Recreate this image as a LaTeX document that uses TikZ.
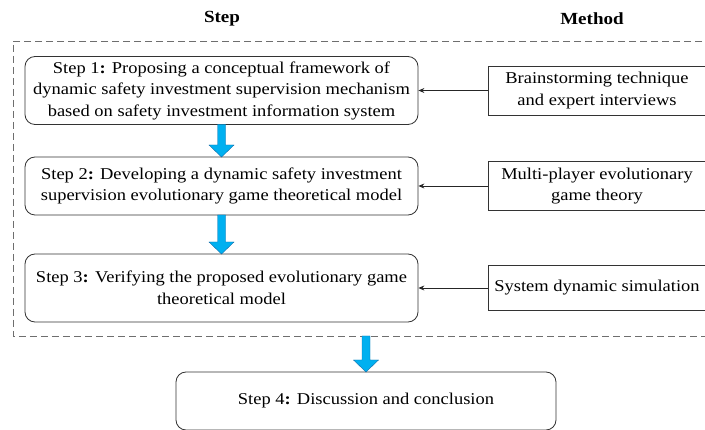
\documentclass[tikz,border=0pt]{standalone}
\usepackage{fontspec}
\setmainfont[FakeStretch=1.12]{Liberation Serif}
\usetikzlibrary{arrows.meta}
\definecolor{flowblue}{RGB}{0,176,240}
\definecolor{flowedge}{RGB}{20,110,170}
\definecolor{frame}{RGB}{110,110,110}
\begin{document}
\begin{tikzpicture}[x=1pt,y=-1pt,
  stepbox/.style={draw=black!80,line width=0.8pt,rounded corners=10pt,align=center,
    font=\fontsize{16.5}{21.5}\selectfont,inner sep=0pt},
  methodbox/.style={draw=black!80,line width=0.8pt,align=center,
    font=\fontsize{16.5}{21.5}\selectfont,inner sep=0pt},
  header/.style={font=\fontsize{17}{20}\selectfont\bfseries},
  link/.style={-{Stealth[length=6pt,width=5pt]},line width=0.8pt,black!85},
  flow/.style={fill=flowblue,draw=flowedge,line width=0.4pt}
]
\useasboundingbox (0,0) rectangle (705,430);
\fill[white] (0,0) rectangle (705,430);

% column headings
\node[header] (hstep) at (222,19) {Step};
\node[header] (hmeth) at (592,19) {Method};

% dashed frame around steps 1-3 and their methods
\draw[frame,dash pattern=on 7pt off 4pt,line width=0.8pt] (713,41) -- (13,41) -- (13,336) -- (713,336);

% step boxes
\node[stepbox,minimum width=393pt,minimum height=68pt] (s1) at (221.5,90.5)
  {Step 1\textbf{:} Proposing a conceptual framework of\\dynamic safety investment supervision mechanism\\based on safety investment information system};
\node[stepbox,minimum width=393pt,minimum height=58pt] (s2) at (221.5,186)
  {Step 2\textbf{:} Developing a dynamic safety investment\\supervision evolutionary game theoretical model};
\node[stepbox,minimum width=393pt,minimum height=68pt] (s3) at (221.5,288)
  {Step 3\textbf{:} Verifying the proposed evolutionary game\\theoretical model};
\node[stepbox,minimum width=380pt,minimum height=58pt] (s4) at (366,401)
  {Step 4\textbf{:} Discussion and conclusion};

% method boxes
\node[methodbox,minimum width=218pt,minimum height=49pt] (m1) at (597,90.5)
  {Brainstorming technique\\and expert interviews};
\node[methodbox,minimum width=218pt,minimum height=49pt] (m2) at (597,186)
  {Multi-player evolutionary\\game theory};
\node[methodbox,minimum width=218pt,minimum height=45pt] (m3) at (597,288)
  {System dynamic simulation};

% method -> step links
\draw[link] (m1.west) -- (s1.east);
\draw[link] (m2.west) -- (s2.east);
\draw[link] (m3.west) -- (s3.east);

% block arrows between steps: x, top y, tip y
\newcommand{\blockarrow}[3]{%
  \draw[flow] (#1-4,#2) -- (#1+4,#2) -- (#1+4,#3-12) -- (#1+12.5,#3-12) -- (#1,#3)
    -- (#1-12.5,#3-12) -- (#1-4,#3-12) -- cycle;}
\blockarrow{221.5}{124.5}{157}
\blockarrow{221.5}{215}{254}
\blockarrow{366}{336}{372}
\end{tikzpicture}
\end{document}
